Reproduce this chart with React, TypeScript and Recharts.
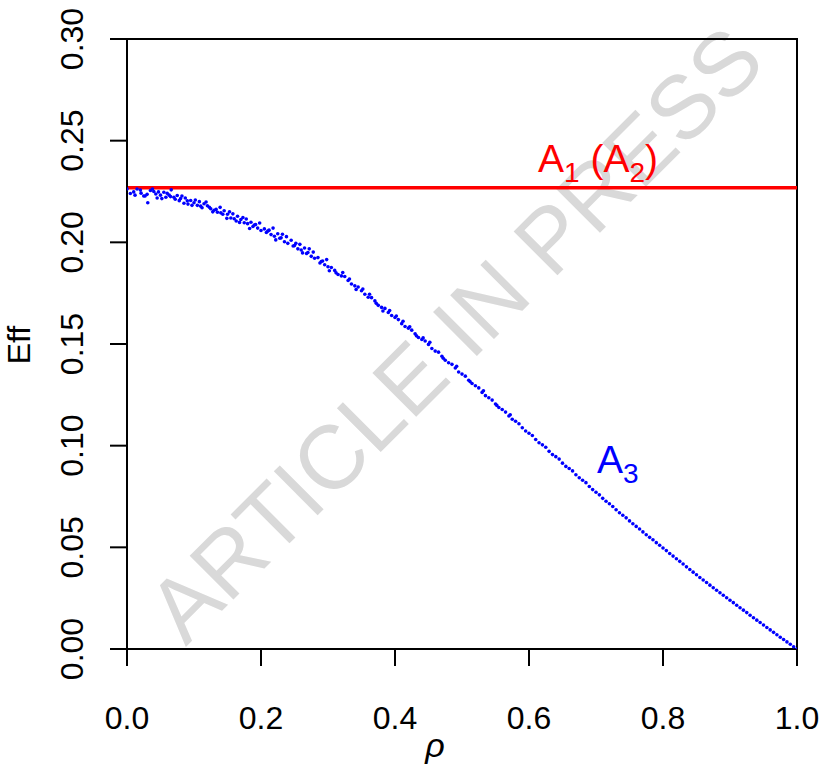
import React from 'react';
import { ComposedChart, Scatter, Line, XAxis, YAxis, ReferenceArea } from 'recharts';

// efficiency of A1 (A2): constant over rho
const rhoFlat = [0, 1];
const effFlat = [0.2268, 0.2268];

// A3 simulated points, main pass (rho step 0.01)
const rhoA = [
  0.00, 0.01, 0.02, 0.03, 0.04, 0.05, 0.06, 0.07, 0.08, 0.09,
  0.10, 0.11, 0.12, 0.13, 0.14, 0.15, 0.16, 0.17, 0.18, 0.19,
  0.20, 0.21, 0.22, 0.23, 0.24, 0.25, 0.26, 0.27, 0.28, 0.29,
  0.30, 0.31, 0.32, 0.33, 0.34, 0.35, 0.36, 0.37, 0.38, 0.39,
  0.40, 0.41, 0.42, 0.43, 0.44, 0.45, 0.46, 0.47, 0.48, 0.49,
  0.50, 0.51, 0.52, 0.53, 0.54, 0.55, 0.56, 0.57, 0.58, 0.59,
  0.60, 0.61, 0.62, 0.63, 0.64, 0.65, 0.66, 0.67, 0.68, 0.69,
  0.70, 0.71, 0.72, 0.73, 0.74, 0.75, 0.76, 0.77, 0.78, 0.79,
  0.80, 0.81, 0.82, 0.83, 0.84, 0.85, 0.86, 0.87, 0.88, 0.89,
  0.90, 0.91, 0.92, 0.93, 0.94, 0.95, 0.96, 0.97, 0.98, 0.99, 1.00,
];
const effA = [
  0.2262, 0.2248, 0.2257, 0.2236, 0.2250, 0.2232, 0.2241, 0.2222, 0.2215, 0.2204,
  0.2195, 0.2178, 0.2180, 0.2158, 0.2145, 0.2138, 0.2116, 0.2112, 0.2092, 0.2085,
  0.2058, 0.2055, 0.2030, 0.2022, 0.1995, 0.1984, 0.1962, 0.1950, 0.1922, 0.1906,
  0.1880, 0.1862, 0.1835, 0.1812, 0.1786, 0.1762, 0.1730, 0.1712, 0.1680, 0.1655,
  0.1630, 0.1600, 0.1578, 0.1550, 0.1522, 0.1498, 0.1465, 0.1440, 0.1408, 0.1382,
  0.1352, 0.1322, 0.1295, 0.1262, 0.1236, 0.1205, 0.1178, 0.1146, 0.1120, 0.1088,
  0.1061, 0.1030, 0.1004, 0.0972, 0.0946, 0.0914, 0.0888, 0.0857, 0.0830, 0.0799,
  0.0771, 0.0741, 0.0714, 0.0685, 0.0658, 0.0630, 0.0603, 0.0576, 0.0549, 0.0523,
  0.0497, 0.0470, 0.0444, 0.0418, 0.0391, 0.0365, 0.0339, 0.0314, 0.0289, 0.0264,
  0.0240, 0.0215, 0.0191, 0.0166, 0.0142, 0.0118, 0.0094, 0.0070, 0.0047, 0.0023, 0.0000,
];

// A3 simulated points, second pass (half steps)
const rhoB = [
  0.005, 0.015, 0.025, 0.035, 0.045, 0.055, 0.065, 0.075, 0.085, 0.095,
  0.105, 0.115, 0.125, 0.135, 0.145, 0.155, 0.165, 0.175, 0.185, 0.195,
  0.205, 0.215, 0.225, 0.235, 0.245, 0.255, 0.265, 0.275, 0.285, 0.295,
  0.305, 0.315, 0.325, 0.335, 0.345, 0.355, 0.365, 0.375, 0.385, 0.395,
  0.405, 0.415, 0.425, 0.435, 0.445, 0.455, 0.465, 0.475, 0.485, 0.495,
  0.505, 0.515, 0.525, 0.535, 0.545, 0.555, 0.565, 0.575, 0.585, 0.595,
  0.605, 0.615, 0.625, 0.635, 0.645, 0.655, 0.665, 0.675, 0.685, 0.695,
  0.705, 0.715, 0.725, 0.735, 0.745, 0.755, 0.765, 0.775, 0.785, 0.795,
  0.805, 0.815, 0.825, 0.835, 0.845, 0.855, 0.865, 0.875, 0.885, 0.895,
  0.905, 0.915, 0.925, 0.935, 0.945, 0.955, 0.965, 0.975, 0.985, 0.995,
];
const effB = [
  0.2240, 0.2262, 0.2228, 0.2255, 0.2218, 0.2246, 0.2225, 0.2230, 0.2192, 0.2206,
  0.2182, 0.2190, 0.2165, 0.2148, 0.2155, 0.2120, 0.2128, 0.2096, 0.2099, 0.2070,
  0.2066, 0.2038, 0.2042, 0.2003, 0.2010, 0.1968, 0.1972, 0.1931, 0.1925, 0.1890,
  0.1876, 0.1842, 0.1832, 0.1795, 0.1780, 0.1745, 0.1728, 0.1690, 0.1675, 0.1640,
  0.1620, 0.1586, 0.1568, 0.1532, 0.1515, 0.1478, 0.1460, 0.1420, 0.1400, 0.1362,
  0.1342, 0.1306, 0.1284, 0.1246, 0.1224, 0.1188, 0.1165, 0.1130, 0.1108, 0.1072,
  0.1050, 0.1014, 0.0992, 0.0956, 0.0934, 0.0898, 0.0876, 0.0842, 0.0818, 0.0784,
  0.0758, 0.0727, 0.0701, 0.0670, 0.0645, 0.0616, 0.0590, 0.0562, 0.0537, 0.0510,
  0.0484, 0.0457, 0.0431, 0.0404, 0.0378, 0.0352, 0.0327, 0.0301, 0.0277, 0.0252,
  0.0228, 0.0203, 0.0179, 0.0154, 0.0130, 0.0106, 0.0082, 0.0058, 0.0035, 0.0011,
];

// A3 extra scattered points (noisier part at low rho)
const rhoC = [
  0.012, 0.021, 0.031, 0.038, 0.047, 0.058, 0.066, 0.072, 0.082, 0.091,
  0.102, 0.112, 0.118, 0.128, 0.139, 0.149, 0.158, 0.168, 0.178, 0.183,
  0.192, 0.212, 0.222, 0.232, 0.252, 0.262, 0.272, 0.292, 0.302, 0.322,
  0.342, 0.362, 0.382, 0.392, 0.412, 0.432, 0.452, 0.472, 0.492, 0.512,
  0.532, 0.552, 0.572,
];
const effC = [
  0.2232, 0.2242, 0.2195, 0.2262, 0.2248, 0.2222, 0.2258, 0.2212, 0.2228, 0.2188,
  0.2208, 0.2170, 0.2198, 0.2150, 0.2172, 0.2118, 0.2140, 0.2098, 0.2115, 0.2068,
  0.2088, 0.2060, 0.2012, 0.2040, 0.1995, 0.1948, 0.1968, 0.1908, 0.1860, 0.1852,
  0.1768, 0.1745, 0.1662, 0.1665, 0.1612, 0.1540, 0.1508, 0.1430, 0.1390, 0.1315,
  0.1270, 0.1198, 0.1152,
];

// more A3 points, wider spread between rho 0.03 and 0.45
const rhoD = [
  0.027, 0.043, 0.052, 0.063, 0.078, 0.087, 0.097, 0.108, 0.123, 0.133,
  0.143, 0.153, 0.163, 0.173, 0.188, 0.198, 0.208, 0.218, 0.228, 0.238,
  0.248, 0.258, 0.268, 0.278, 0.288, 0.298, 0.312, 0.332, 0.352, 0.372,
  0.402, 0.422, 0.442,
];
const effD = [
  0.2228, 0.2238, 0.2215, 0.2232, 0.2205, 0.2218, 0.2182, 0.2200, 0.2172, 0.2162,
  0.2138, 0.2150, 0.2105, 0.2122, 0.2078, 0.2095, 0.2048, 0.2070, 0.2020, 0.2028,
  0.1982, 0.1990, 0.1945, 0.1952, 0.1898, 0.1915, 0.1850, 0.1820, 0.1770, 0.1700,
  0.1638, 0.1585, 0.1530,
];

const xTicks = [0, 0.2, 0.4, 0.6, 0.8, 1.0];
const yTicks = [0, 0.05, 0.1, 0.15, 0.2, 0.25, 0.3];

const FONT = '"Liberation Sans", Arial, Helvetica, sans-serif';

const toPoints = (xs: number[], ys: number[]) => xs.map((x, i) => ({ rho: x, eff: ys[i] }));

const flatData = toPoints(rhoFlat, effFlat);
const dataA = toPoints(rhoA, effA);
const dataB = toPoints(rhoB, effB);
const dataC = toPoints(rhoC, effC);
const dataD = toPoints(rhoD, effD);

const Dot = (props: any) => {
  const { cx, cy } = props;
  if (cx == null || cy == null) return null;
  return <circle cx={cx} cy={cy} r={1.8} fill="#0000ff" />;
};

const XTick = (props: any) => {
  const { x, payload } = props;
  return (
    <text x={x} y={729} textAnchor="middle" fontSize={32} fontFamily={FONT} fill="#000">
      {payload.value.toFixed(1)}
    </text>
  );
};

const YTick = (props: any) => {
  const { y, payload } = props;
  return (
    <text
      x={83}
      y={y}
      textAnchor="middle"
      fontSize={32}
      fontFamily={FONT}
      fill="#000"
      transform={`rotate(-90, 83, ${y})`}
    >
      {payload.value.toFixed(2)}
    </text>
  );
};

export default function App() {
  return (
    <div style={{ position: 'absolute', left: 0, top: 0, width: 823, height: 775, background: '#fff' }}>
      {/* watermark sits behind the plot */}
      <svg width={823} height={775} style={{ position: 'absolute', left: 0, top: 0 }}>
        <text
          x={455}
          y={334}
          textAnchor="middle"
          dominantBaseline="central"
          fontSize={90}
          fontFamily={FONT}
          fill="#d9d9d9"
          transform="rotate(-45, 455, 334)"
        >
          ARTICLE IN PRESS
        </text>
      </svg>
      <div style={{ position: 'absolute', left: 0, top: 0 }}>
        <ComposedChart width={823} height={775} margin={{ top: 39, right: 26, bottom: 0, left: 0 }}>
          <XAxis
            dataKey="rho"
            type="number"
            domain={[0, 1]}
            ticks={xTicks}
            tickSize={17}
            height={126}
            tick={<XTick />}
            axisLine={{ stroke: '#000', strokeWidth: 2 }}
            tickLine={{ stroke: '#000', strokeWidth: 2 }}
            allowDataOverflow
          />
          <YAxis
            dataKey="eff"
            type="number"
            domain={[0, 0.3]}
            ticks={yTicks}
            tickSize={17}
            width={127}
            tick={<YTick />}
            axisLine={{ stroke: '#000', strokeWidth: 2 }}
            tickLine={{ stroke: '#000', strokeWidth: 2 }}
            allowDataOverflow
          />
          <ReferenceArea x1={0} x2={1} y1={0} y2={0.3} fill="none" stroke="#000" strokeWidth={2} ifOverflow="visible" />
          <Line
            data={flatData}
            dataKey="eff"
            type="linear"
            stroke="#ff0000"
            strokeWidth={3.5}
            dot={false}
            isAnimationActive={false}
          />
          <Scatter data={dataA} dataKey="eff" shape={<Dot />} isAnimationActive={false} />
          <Scatter data={dataB} dataKey="eff" shape={<Dot />} isAnimationActive={false} />
          <Scatter data={dataC} dataKey="eff" shape={<Dot />} isAnimationActive={false} />
          <Scatter data={dataD} dataKey="eff" shape={<Dot />} isAnimationActive={false} />
        </ComposedChart>
      </div>
      <svg width={823} height={775} style={{ position: 'absolute', left: 0, top: 0, pointerEvents: 'none' }}>
        <text x={538} y={172} fontSize={39} fontFamily={FONT} fill="#ff0000">
          A<tspan fontSize={28} dy={10}>1</tspan>
          <tspan dy={-10}> (A</tspan>
          <tspan fontSize={28} dy={10}>2</tspan>
          <tspan dy={-10}>)</tspan>
        </text>
        <text x={597} y={473} fontSize={39} fontFamily={FONT} fill="#0000ff">
          A<tspan fontSize={28} dy={10}>3</tspan>
        </text>
        <text
          x={30}
          y={345}
          textAnchor="middle"
          fontSize={32}
          fontFamily={FONT}
          fill="#000"
          transform="rotate(-90, 30, 345)"
        >
          Eff
        </text>
        <text x={435} y={757} textAnchor="middle" fontSize={34} fontStyle="italic" fontFamily={FONT} fill="#000">
          ρ
        </text>
      </svg>
    </div>
  );
}
